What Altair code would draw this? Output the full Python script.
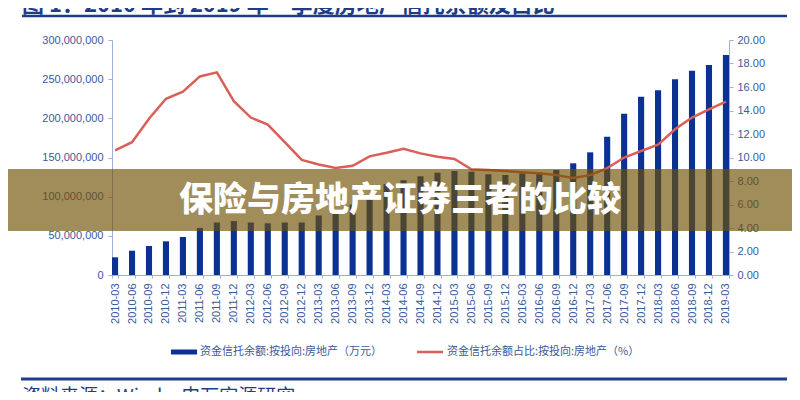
import altair as alt
import pandas as pd

quarters = [
    "2010-03", "2010-06", "2010-09", "2010-12",
    "2011-03", "2011-06", "2011-09", "2011-12",
    "2012-03", "2012-06", "2012-09", "2012-12",
    "2013-03", "2013-06", "2013-09", "2013-12",
    "2014-03", "2014-06", "2014-09", "2014-12",
    "2015-03", "2015-06", "2015-09", "2015-12",
    "2016-03", "2016-06", "2016-09", "2016-12",
    "2017-03", "2017-06", "2017-09", "2017-12",
    "2018-03", "2018-06", "2018-09", "2018-12",
    "2019-03",
]
# 资金信托余额:按投向:房地产（万元）
balance = [
    22600000, 31000000, 37000000, 43000000,
    48500000, 60000000, 67000000, 68800000,
    67000000, 66000000, 67000000, 67000000,
    76000000, 81000000, 90000000, 102000000,
    116000000, 121000000, 126000000, 130600000,
    132800000, 131900000, 128600000, 127700000,
    129800000, 131000000, 134000000, 142600000,
    156600000, 176600000, 206000000, 227600000,
    236000000, 250000000, 260800000, 268000000,
    280900000,
]
# 资金信托余额占比:按投向:房地产（%）
share = [
    10.6, 11.3, 13.3, 15.0,
    15.6, 16.9, 17.25, 14.8,
    13.4, 12.8, 11.3, 9.8,
    9.4, 9.1, 9.3, 10.1,
    10.4, 10.75, 10.35, 10.07,
    9.87, 9.0, 8.94, 8.85,
    8.74, 8.65, 8.5, 8.25,
    8.5, 9.1, 10.0, 10.55,
    11.1, 12.4, 13.4, 14.1,
    14.75,
]

left_ticks = [0, 50000000, 100000000, 150000000, 200000000, 250000000, 300000000]
right_ticks = [0, 2, 4, 6, 8, 10, 12, 14, 16, 18, 20]

title_text = "图 1：2010 年到 2019 年一季度房地产信托余额及占比"
banner_text = "保险与房地产证券三者的比较"
legend_bar = "资金信托余额:按投向:房地产（万元）"
legend_line = "资金信托余额占比:按投向:房地产（%）"
source_text = "资料来源：Wind，申万宏源研究"

NAVY = "#0b3192"
RED = "#da5f58"
AXIS = "#9db0d8"
LABEL = "#3b5a9a"
DARK = "#1f3c88"
CJK = "Noto Sans CJK SC"
LAT = "Liberation Sans"

df = pd.DataFrame({"q": quarters, "balance": balance, "share": share})
one = pd.DataFrame({"k": [0]})

xenc = alt.X(
    "q:O", sort=None, title=None,
    scale=alt.Scale(type="band", paddingInner=0.64, paddingOuter=0),
    axis=alt.Axis(labelAngle=270, labelFontSize=11, labelPadding=5,
                  tickBand="extent", tickSize=3, labelOverlap=False,
                  domainColor=AXIS, tickColor=AXIS, labelColor=LABEL,
                  labelFont=LAT),
)

bars = alt.Chart(df).mark_bar(color=NAVY).encode(
    x=xenc,
    y=alt.Y("balance:Q", title=None,
            scale=alt.Scale(domain=[0, 300000000], nice=False),
            axis=alt.Axis(orient="left", values=left_ticks, format=",d",
                          tickSize=4, labelPadding=5, labelFontSize=11,
                          labelFont=LAT, labelColor=LABEL,
                          domainColor=AXIS, tickColor=AXIS)),
)

line = alt.Chart(df).mark_line(color=RED, strokeWidth=2.5).encode(
    x=xenc,
    y=alt.Y("share:Q", title=None,
            scale=alt.Scale(domain=[0, 20], nice=False),
            axis=alt.Axis(orient="right", values=right_ticks, format=".2f",
                          tickSize=4, labelPadding=4, labelFontSize=11,
                          labelFont=LAT, labelColor=LABEL,
                          domainColor=AXIS, tickColor=AXIS)),
)

title = alt.Chart(one).mark_text(
    text=title_text, font=CJK, fontSize=22, fontWeight="bold", color=DARK,
    align="left", baseline="alphabetic",
).encode(x=alt.value(-90), y=alt.value(-28))

underline = alt.Chart(one).mark_rule(color=DARK, strokeWidth=2.5).encode(
    x=alt.value(-90), x2=alt.value(675), y=alt.value(-24))

leg_swatch1 = alt.Chart(one).mark_rect(color=NAVY).encode(
    x=alt.value(59), x2=alt.value(85), y=alt.value(309.5), y2=alt.value(314.5))
leg_text1 = alt.Chart(one).mark_text(
    text=legend_bar, font=CJK, fontSize=11, color=LABEL,
    align="left", baseline="middle",
).encode(x=alt.value(88), y=alt.value(312))
leg_swatch2 = alt.Chart(one).mark_rule(color=RED, strokeWidth=2.5).encode(
    x=alt.value(305), x2=alt.value(331), y=alt.value(312))
leg_text2 = alt.Chart(one).mark_text(
    text=legend_line, font=CJK, fontSize=11, color=LABEL,
    align="left", baseline="middle",
).encode(x=alt.value(335), y=alt.value(312))

foot_rule = alt.Chart(one).mark_rule(color=DARK, strokeWidth=3).encode(
    x=alt.value(-91), x2=alt.value(675), y=alt.value(339))
foot_text = alt.Chart(one).mark_text(
    text=source_text, font=CJK, fontSize=19, color=DARK,
    align="left", baseline="top",
).encode(x=alt.value(-90), y=alt.value(348))

banner = alt.Chart(one).mark_rect(color="#6e5000", opacity=0.65).encode(
    x=alt.value(-104), x2=alt.value(680), y=alt.value(129), y2=alt.value(191))
banner_txt = alt.Chart(one).mark_text(
    text=banner_text, font=CJK, fontSize=34, fontWeight=900, color="white",
    align="center", baseline="middle",
).encode(x=alt.value(288), y=alt.value(161))

chart = alt.layer(
    bars, line, title, underline, leg_swatch1, leg_text1, leg_swatch2,
    leg_text2, foot_rule, foot_text, banner, banner_txt,
).resolve_scale(y="independent").properties(
    width=617, height=235,
    padding={"left": 104, "top": 32, "right": 63, "bottom": 117},
    autosize=alt.AutoSizeParams(type="none"),
).configure_view(stroke=None).configure_axis(grid=False)

chart.save("out.html", embed_options={"renderer": "svg", "actions": False})
